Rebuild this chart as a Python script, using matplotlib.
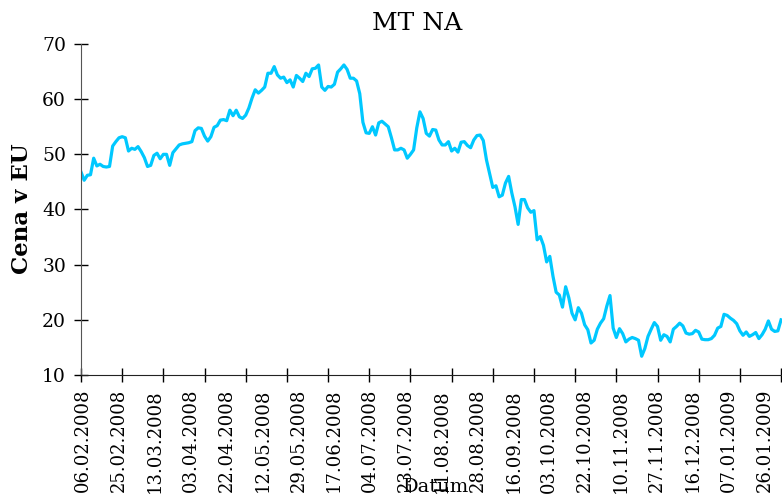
import matplotlib
matplotlib.use("Agg")
import matplotlib.pyplot as plt

# Daily price (one value per trading day)
prices = [
    46.8, 45.3, 46.2, 46.3, 49.3, 47.9, 48.2, 47.8, 47.7, 47.8, 51.5, 52.3, 53.0,
    53.2, 53.0, 50.6, 51.1, 50.9, 51.4, 50.5, 49.4, 47.8, 48.0, 49.8, 50.2, 49.2,
    50.0, 50.0, 48.0, 50.3, 51.0, 51.7, 51.9, 52.0, 52.1, 52.3, 54.3, 54.8, 54.7,
    53.3, 52.4, 53.2, 54.9, 55.2, 56.2, 56.3, 56.1, 58.0, 57.0, 58.0, 56.8, 56.5,
    57.1, 58.4, 60.2, 61.7, 61.1, 61.6, 62.2, 64.7, 64.7, 65.9, 64.4, 63.8, 64.0,
    63.0, 63.5, 62.2, 64.3, 63.8, 63.2, 64.7, 64.1, 65.5, 65.6, 66.2, 62.2, 61.6,
    62.3, 62.2, 62.7, 64.9, 65.5, 66.2, 65.4, 63.8, 63.8, 63.3, 61.0, 55.8, 53.9,
    53.8, 55.0, 53.5, 55.7, 56.0, 55.5, 55.0, 53.0, 50.8, 50.8, 51.1, 50.8, 49.3,
    50.0, 50.8, 54.8, 57.7, 56.5, 53.8, 53.3, 54.5, 54.4, 52.6, 51.7, 51.7, 52.3,
    50.6, 51.1, 50.4, 52.2, 52.3, 51.6, 51.2, 52.6, 53.4, 53.5, 52.5, 49.0, 46.5,
    44.0, 44.3, 42.3, 42.6, 44.8, 46.0, 43.0, 40.5, 37.3, 41.8, 41.8, 40.3, 39.5,
    39.8, 34.5, 35.1, 33.5, 30.5, 31.5, 27.9, 25.0, 24.5, 22.3, 26.0, 24.0, 21.2,
    20.0, 22.2, 21.2, 19.1, 18.2, 15.8, 16.3, 18.3, 19.4, 20.2, 22.5, 24.4, 18.5,
    16.8, 18.4, 17.5, 16.0, 16.5, 16.8, 16.6, 16.3, 13.4, 14.8, 17.0, 18.3, 19.5,
    18.8, 16.3, 17.3, 17.0, 16.0, 18.3, 18.8, 19.4, 18.9, 17.6, 17.4, 17.5, 18.1,
    17.8, 16.5, 16.4, 16.4, 16.6, 17.2, 18.5, 18.8, 21.0, 20.8, 20.3, 19.9, 19.3,
    18.0, 17.2, 17.8, 17.0, 17.3, 17.7, 16.6, 17.3, 18.3, 19.8, 18.3, 17.9, 18.0,
    20.0,
]

tick_labels = [
    "06.02.2008", "25.02.2008", "13.03.2008", "03.04.2008", "22.04.2008",
    "12.05.2008", "29.05.2008", "17.06.2008", "04.07.2008", "23.07.2008",
    "11.08.2008", "28.08.2008", "16.09.2008", "03.10.2008", "22.10.2008",
    "10.11.2008", "27.11.2008", "16.12.2008", "07.01.2009", "26.01.2009",
]
tick_step = 13      # tick marks every 13 trading days
label_step = 11.32  # labels are spread a bit tighter than the marks
label_start = 0.7

plt.rcParams["font.family"] = "DejaVu Serif"

fig = plt.figure(figsize=(7.82, 4.95), dpi=100)
ax = fig.add_axes([81 / 782, 1 - 375 / 495, 1 - 81 / 782, (375 - 44) / 495])

x = list(range(len(prices)))
ax.plot(x, prices, color="#00c8ff", linewidth=2.3, solid_joinstyle="round")

ax.set_xlim(0, len(prices) - 0.7)
ax.set_ylim(10, 70)
ax.set_yticks([10, 20, 30, 40, 50, 60, 70])

# marks (no text) on major ticks, date texts on minor ticks
ax.set_xticks(list(range(0, len(prices), tick_step)))
ax.set_xticklabels([])
ax.set_xticks([label_start + i * label_step for i in range(len(tick_labels))], minor=True)
ax.set_xticklabels(tick_labels, minor=True, rotation=90)

for side in ["top", "right"]:
    ax.spines[side].set_visible(False)
ax.spines["left"].set_color("#555555")
ax.spines["bottom"].set_color("#222222")
ax.tick_params(axis="both", direction="inout", length=9.5, width=1, labelsize=13.5)
ax.tick_params(axis="x", which="minor", length=0, pad=10, labelsize=13)
ax.tick_params(axis="y", pad=6)

fig.text(417 / 782, 1 - 24 / 495, "MT NA", fontsize=18, ha="center", va="center")
fig.text(22 / 782, 1 - 209 / 495, "Cena v EU", fontsize=16.5, fontweight="bold",
         rotation=90, ha="center", va="center")
fig.text(436 / 782, 1 - 487 / 495, "Datum", fontsize=14, ha="center", va="center")

fig.savefig("out.png", dpi=100)
